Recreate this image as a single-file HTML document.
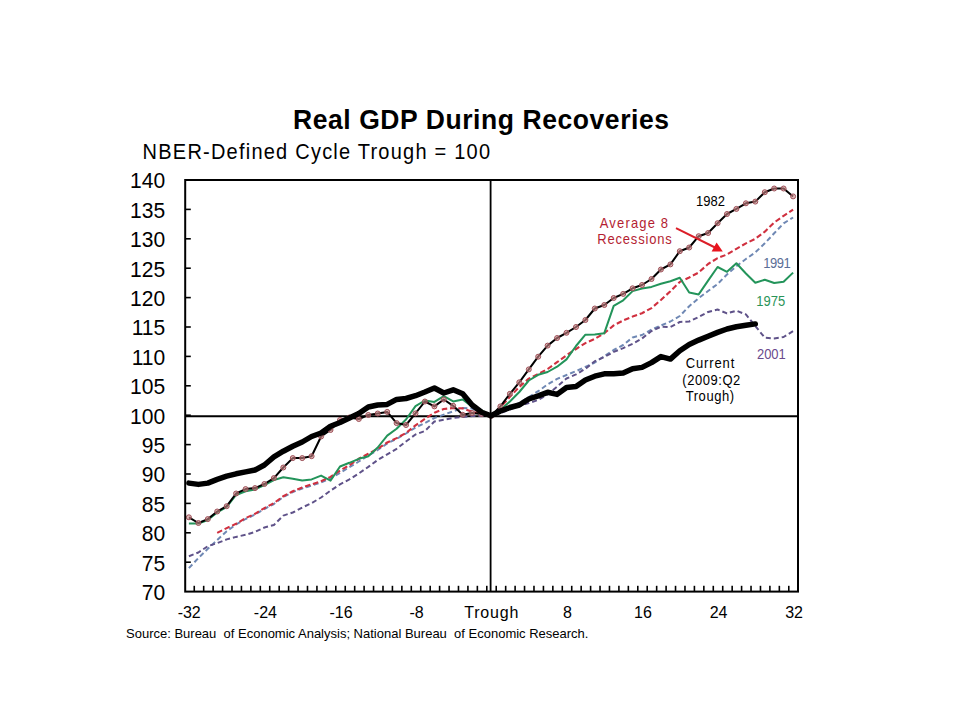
<!DOCTYPE html>
<html><head><meta charset="utf-8"><title>Real GDP During Recoveries</title>
<style>
html,body{margin:0;padding:0;background:#fff;}
body{width:960px;height:720px;overflow:hidden;}
svg{display:block;}
text{font-family:'Liberation Sans', Arial, sans-serif;}
</style></head><body>
<svg width="960" height="720" viewBox="0 0 960 720">
<rect x="0" y="0" width="960" height="720" fill="#fff"/>

<text transform="translate(293,128.7) scale(1,1.05)" font-size="26.5" font-weight="bold" textLength="376" lengthAdjust="spacing" fill="#000">Real GDP During Recoveries</text>
<text transform="translate(142.6,158.5) scale(1,1.1)" font-size="20" textLength="347.5" lengthAdjust="spacing" fill="#000">NBER-Defined Cycle Trough = 100</text>
<text transform="translate(165.2,599.9) scale(0.94,1)" font-size="22.4" text-anchor="end" fill="#000">70</text>
<text transform="translate(165.2,570.5) scale(0.94,1)" font-size="22.4" text-anchor="end" fill="#000">75</text>
<text transform="translate(165.2,541.1) scale(0.94,1)" font-size="22.4" text-anchor="end" fill="#000">80</text>
<text transform="translate(165.2,511.7) scale(0.94,1)" font-size="22.4" text-anchor="end" fill="#000">85</text>
<text transform="translate(165.2,482.3) scale(0.94,1)" font-size="22.4" text-anchor="end" fill="#000">90</text>
<text transform="translate(165.2,452.9) scale(0.94,1)" font-size="22.4" text-anchor="end" fill="#000">95</text>
<text transform="translate(165.2,423.5) scale(0.94,1)" font-size="22.4" text-anchor="end" fill="#000">100</text>
<text transform="translate(165.2,394.1) scale(0.94,1)" font-size="22.4" text-anchor="end" fill="#000">105</text>
<text transform="translate(165.2,364.7) scale(0.94,1)" font-size="22.4" text-anchor="end" fill="#000">110</text>
<text transform="translate(165.2,335.3) scale(0.94,1)" font-size="22.4" text-anchor="end" fill="#000">115</text>
<text transform="translate(165.2,305.9) scale(0.94,1)" font-size="22.4" text-anchor="end" fill="#000">120</text>
<text transform="translate(165.2,276.5) scale(0.94,1)" font-size="22.4" text-anchor="end" fill="#000">125</text>
<text transform="translate(165.2,247.1) scale(0.94,1)" font-size="22.4" text-anchor="end" fill="#000">130</text>
<text transform="translate(165.2,217.7) scale(0.94,1)" font-size="22.4" text-anchor="end" fill="#000">135</text>
<text transform="translate(165.2,188.3) scale(0.94,1)" font-size="22.4" text-anchor="end" fill="#000">140</text>
<text x="189.2" y="618" font-size="16" text-anchor="middle" fill="#000">-32</text>
<text x="265.4" y="618" font-size="16" text-anchor="middle" fill="#000">-24</text>
<text x="341.0" y="618" font-size="16" text-anchor="middle" fill="#000">-16</text>
<text x="416.5" y="618" font-size="16" text-anchor="middle" fill="#000">-8</text>
<text x="491.3" y="618" font-size="16" text-anchor="middle" textLength="54" lengthAdjust="spacing" fill="#000">Trough</text>
<text x="567.5" y="618" font-size="16" text-anchor="middle" fill="#000">8</text>
<text x="643.0" y="618" font-size="16" text-anchor="middle" fill="#000">16</text>
<text x="718.6" y="618" font-size="16" text-anchor="middle" fill="#000">24</text>
<text x="794.1" y="618" font-size="16" text-anchor="middle" fill="#000">32</text>
<text x="126" y="637.5" font-size="13" fill="#000" xml:space="preserve">Source: Bureau  of Economic Analysis; National Bureau  of Economic Research.</text>
<line x1="185" y1="416.2" x2="798" y2="416.2" stroke="#000" stroke-width="2"/>
<polyline points="188.9,568.1 198.4,558.1 207.8,548.8 217.2,540.0 226.7,531.2 236.1,524.5 245.6,519.0 255.0,514.5 264.4,509.0 273.9,504.0 283.3,497.0 292.8,492.0 302.2,488.5 311.6,485.5 321.1,482.5 330.5,478.5 340.0,472.8 349.4,467.2 358.8,461.5 368.3,455.5 377.7,450.0 387.2,443.5 396.6,438.8 406.0,433.5 415.5,427.5 424.9,423.0 434.4,418.0 443.8,414.7 453.2,411.3 462.7,408.0 472.1,408.5 481.6,412.5 491.0,415.8 500.4,411.5 509.9,407.5 519.3,403.0 528.8,397.0 538.2,391.2 547.6,384.4 557.1,378.9 566.5,375.0 576.0,371.2 585.4,366.9 594.8,362.5 604.3,356.2 613.7,350.0 623.2,345.0 632.6,337.5 642.0,335.0 651.5,329.7 660.9,325.5 670.4,321.5 679.8,316.0 689.2,306.2 698.7,298.1 708.1,291.0 717.6,284.0 727.0,274.5 736.4,266.2 745.9,259.0 755.3,252.4 764.8,243.3 774.2,233.3 783.6,223.3 793.1,217.5" fill="none" stroke="#6f88b4" stroke-width="2" stroke-linejoin="round" stroke-dasharray="5 3"/>
<polyline points="188.9,556.2 198.4,552.5 207.8,546.2 217.2,543.1 226.7,539.4 236.1,536.9 245.6,534.8 255.0,531.9 264.4,527.5 273.9,525.0 283.3,515.6 292.8,512.5 302.2,507.5 311.6,503.1 321.1,497.5 330.5,490.6 340.0,484.4 349.4,479.4 358.8,473.5 368.3,466.9 377.7,460.0 387.2,454.4 396.6,448.8 406.0,441.5 415.5,434.5 424.9,431.0 434.4,421.5 443.8,419.8 453.2,418.0 462.7,417.0 472.1,416.0 481.6,416.0 491.0,415.8 500.4,413.0 509.9,409.5 519.3,406.0 528.8,403.0 538.2,400.0 547.6,394.4 557.1,386.7 566.5,378.5 576.0,374.4 585.4,368.8 594.8,361.2 604.3,356.9 613.7,351.9 623.2,348.1 632.6,343.8 642.0,338.5 651.5,331.0 660.9,326.7 670.4,327.0 679.8,322.0 689.2,321.5 698.7,317.0 708.1,312.0 717.6,309.5 727.0,313.4 736.4,310.7 745.9,314.4 755.3,326.0 764.8,337.7 774.2,338.4 783.6,337.0 793.1,331.1" fill="none" stroke="#5f5289" stroke-width="2" stroke-linejoin="round" stroke-dasharray="5 3"/>
<polyline points="217.2,532.9 226.7,528.1 236.1,523.8 245.6,518.1 255.0,513.8 264.4,508.1 273.9,503.1 283.3,496.2 292.8,491.2 302.2,487.5 311.6,484.4 321.1,481.2 330.5,476.9 340.0,470.6 349.4,465.2 358.8,458.8 368.3,453.8 377.7,448.8 387.2,442.5 396.6,438.1 406.0,433.0 415.5,425.4 424.9,418.9 434.4,412.8 443.8,409.0 453.2,408.0 462.7,408.4 472.1,411.7 481.6,414.0 491.0,415.8 500.4,407.3 509.9,396.9 519.3,386.9 528.8,378.6 538.2,374.0 547.6,369.0 557.1,362.2 566.5,355.3 576.0,349.0 585.4,343.1 594.8,338.8 604.3,333.3 613.7,325.4 623.2,320.4 632.6,316.6 642.0,313.2 651.5,308.1 660.9,300.0 670.4,291.2 679.8,281.9 689.2,277.5 698.7,272.5 708.1,264.0 717.6,258.1 727.0,254.5 736.4,248.8 745.9,243.4 755.3,238.8 764.8,231.7 774.2,222.5 783.6,215.8 793.1,209.6" fill="none" stroke="#d0303f" stroke-width="2.1" stroke-linejoin="round" stroke-dasharray="5.5 2.8"/>
<polyline points="188.9,523.5 198.4,523.5 207.8,520.0 217.2,512.5 226.7,507.0 236.1,495.0 245.6,491.2 255.0,489.4 264.4,485.0 273.9,480.0 283.3,477.2 292.8,478.8 302.2,480.6 311.6,479.4 321.1,475.6 330.5,480.6 340.0,466.5 349.4,462.8 358.8,458.8 368.3,456.2 377.7,447.5 387.2,435.6 396.6,428.8 406.0,419.5 415.5,406.1 424.9,400.5 434.4,401.9 443.8,396.2 453.2,401.4 462.7,399.5 472.1,406.6 481.6,410.3 491.0,415.8 500.4,409.8 509.9,401.5 519.3,392.0 528.8,380.5 538.2,374.8 547.6,372.0 557.1,366.7 566.5,359.4 576.0,346.0 585.4,334.7 594.8,334.5 604.3,333.2 613.7,305.9 623.2,300.3 632.6,291.1 642.0,288.5 651.5,286.9 660.9,283.8 670.4,281.2 679.8,277.8 689.2,292.5 698.7,294.4 708.1,280.6 717.6,267.0 727.0,271.8 736.4,263.3 745.9,273.5 755.3,282.7 764.8,279.7 774.2,283.0 783.6,281.7 793.1,272.6" fill="none" stroke="#23945a" stroke-width="2" stroke-linejoin="round"/>
<polyline points="188.9,517.3 198.4,523.0 207.8,519.1 217.2,511.5 226.7,506.2 236.1,493.5 245.6,489.1 255.0,488.1 264.4,484.0 273.9,478.1 283.3,467.5 292.8,458.1 302.2,458.1 311.6,456.2 321.1,436.5 330.5,430.0 340.0,420.0 349.4,417.5 358.8,419.0 368.3,415.0 377.7,413.5 387.2,411.9 396.6,423.1 406.0,425.0 415.5,413.4 424.9,401.5 434.4,406.4 443.8,399.5 453.2,405.8 462.7,414.8 472.1,413.0 481.6,414.0 491.0,416.0 500.4,406.4 509.9,393.8 519.3,382.3 528.8,369.4 538.2,356.7 547.6,345.6 557.1,338.0 566.5,332.8 576.0,327.0 585.4,320.0 594.8,308.5 604.3,305.0 613.7,298.0 623.2,293.9 632.6,288.3 642.0,285.0 651.5,279.0 660.9,269.5 670.4,264.4 679.8,251.2 689.2,247.5 698.7,236.2 708.1,233.0 717.6,223.2 727.0,214.0 736.4,208.9 745.9,203.3 755.3,201.6 764.8,192.2 774.2,188.5 783.6,188.5 793.1,196.4" fill="none" stroke="#000" stroke-width="2" stroke-linejoin="round"/>
<circle cx="188.9" cy="517.3" r="2.5" fill="#d08a8a" fill-opacity="0.6" stroke="#9c5058" stroke-width="1"/>
<circle cx="198.4" cy="523.0" r="2.5" fill="#d08a8a" fill-opacity="0.6" stroke="#9c5058" stroke-width="1"/>
<circle cx="207.8" cy="519.1" r="2.5" fill="#d08a8a" fill-opacity="0.6" stroke="#9c5058" stroke-width="1"/>
<circle cx="217.2" cy="511.5" r="2.5" fill="#d08a8a" fill-opacity="0.6" stroke="#9c5058" stroke-width="1"/>
<circle cx="226.7" cy="506.2" r="2.5" fill="#d08a8a" fill-opacity="0.6" stroke="#9c5058" stroke-width="1"/>
<circle cx="236.1" cy="493.5" r="2.5" fill="#d08a8a" fill-opacity="0.6" stroke="#9c5058" stroke-width="1"/>
<circle cx="245.6" cy="489.1" r="2.5" fill="#d08a8a" fill-opacity="0.6" stroke="#9c5058" stroke-width="1"/>
<circle cx="255.0" cy="488.1" r="2.5" fill="#d08a8a" fill-opacity="0.6" stroke="#9c5058" stroke-width="1"/>
<circle cx="264.4" cy="484.0" r="2.5" fill="#d08a8a" fill-opacity="0.6" stroke="#9c5058" stroke-width="1"/>
<circle cx="273.9" cy="478.1" r="2.5" fill="#d08a8a" fill-opacity="0.6" stroke="#9c5058" stroke-width="1"/>
<circle cx="283.3" cy="467.5" r="2.5" fill="#d08a8a" fill-opacity="0.6" stroke="#9c5058" stroke-width="1"/>
<circle cx="292.8" cy="458.1" r="2.5" fill="#d08a8a" fill-opacity="0.6" stroke="#9c5058" stroke-width="1"/>
<circle cx="302.2" cy="458.1" r="2.5" fill="#d08a8a" fill-opacity="0.6" stroke="#9c5058" stroke-width="1"/>
<circle cx="311.6" cy="456.2" r="2.5" fill="#d08a8a" fill-opacity="0.6" stroke="#9c5058" stroke-width="1"/>
<circle cx="321.1" cy="436.5" r="2.5" fill="#d08a8a" fill-opacity="0.6" stroke="#9c5058" stroke-width="1"/>
<circle cx="330.5" cy="430.0" r="2.5" fill="#d08a8a" fill-opacity="0.6" stroke="#9c5058" stroke-width="1"/>
<circle cx="340.0" cy="420.0" r="2.5" fill="#d08a8a" fill-opacity="0.6" stroke="#9c5058" stroke-width="1"/>
<circle cx="349.4" cy="417.5" r="2.5" fill="#d08a8a" fill-opacity="0.6" stroke="#9c5058" stroke-width="1"/>
<circle cx="358.8" cy="419.0" r="2.5" fill="#d08a8a" fill-opacity="0.6" stroke="#9c5058" stroke-width="1"/>
<circle cx="368.3" cy="415.0" r="2.5" fill="#d08a8a" fill-opacity="0.6" stroke="#9c5058" stroke-width="1"/>
<circle cx="377.7" cy="413.5" r="2.5" fill="#d08a8a" fill-opacity="0.6" stroke="#9c5058" stroke-width="1"/>
<circle cx="387.2" cy="411.9" r="2.5" fill="#d08a8a" fill-opacity="0.6" stroke="#9c5058" stroke-width="1"/>
<circle cx="396.6" cy="423.1" r="2.5" fill="#d08a8a" fill-opacity="0.6" stroke="#9c5058" stroke-width="1"/>
<circle cx="406.0" cy="425.0" r="2.5" fill="#d08a8a" fill-opacity="0.6" stroke="#9c5058" stroke-width="1"/>
<circle cx="415.5" cy="413.4" r="2.5" fill="#d08a8a" fill-opacity="0.6" stroke="#9c5058" stroke-width="1"/>
<circle cx="424.9" cy="401.5" r="2.5" fill="#d08a8a" fill-opacity="0.6" stroke="#9c5058" stroke-width="1"/>
<circle cx="434.4" cy="406.4" r="2.5" fill="#d08a8a" fill-opacity="0.6" stroke="#9c5058" stroke-width="1"/>
<circle cx="443.8" cy="399.5" r="2.5" fill="#d08a8a" fill-opacity="0.6" stroke="#9c5058" stroke-width="1"/>
<circle cx="453.2" cy="405.8" r="2.5" fill="#d08a8a" fill-opacity="0.6" stroke="#9c5058" stroke-width="1"/>
<circle cx="462.7" cy="414.8" r="2.5" fill="#d08a8a" fill-opacity="0.6" stroke="#9c5058" stroke-width="1"/>
<circle cx="472.1" cy="413.0" r="2.5" fill="#d08a8a" fill-opacity="0.6" stroke="#9c5058" stroke-width="1"/>
<circle cx="481.6" cy="414.0" r="2.5" fill="#d08a8a" fill-opacity="0.6" stroke="#9c5058" stroke-width="1"/>
<circle cx="491.0" cy="416.0" r="2.5" fill="#d08a8a" fill-opacity="0.6" stroke="#9c5058" stroke-width="1"/>
<circle cx="500.4" cy="406.4" r="2.5" fill="#d08a8a" fill-opacity="0.6" stroke="#9c5058" stroke-width="1"/>
<circle cx="509.9" cy="393.8" r="2.5" fill="#d08a8a" fill-opacity="0.6" stroke="#9c5058" stroke-width="1"/>
<circle cx="519.3" cy="382.3" r="2.5" fill="#d08a8a" fill-opacity="0.6" stroke="#9c5058" stroke-width="1"/>
<circle cx="528.8" cy="369.4" r="2.5" fill="#d08a8a" fill-opacity="0.6" stroke="#9c5058" stroke-width="1"/>
<circle cx="538.2" cy="356.7" r="2.5" fill="#d08a8a" fill-opacity="0.6" stroke="#9c5058" stroke-width="1"/>
<circle cx="547.6" cy="345.6" r="2.5" fill="#d08a8a" fill-opacity="0.6" stroke="#9c5058" stroke-width="1"/>
<circle cx="557.1" cy="338.0" r="2.5" fill="#d08a8a" fill-opacity="0.6" stroke="#9c5058" stroke-width="1"/>
<circle cx="566.5" cy="332.8" r="2.5" fill="#d08a8a" fill-opacity="0.6" stroke="#9c5058" stroke-width="1"/>
<circle cx="576.0" cy="327.0" r="2.5" fill="#d08a8a" fill-opacity="0.6" stroke="#9c5058" stroke-width="1"/>
<circle cx="585.4" cy="320.0" r="2.5" fill="#d08a8a" fill-opacity="0.6" stroke="#9c5058" stroke-width="1"/>
<circle cx="594.8" cy="308.5" r="2.5" fill="#d08a8a" fill-opacity="0.6" stroke="#9c5058" stroke-width="1"/>
<circle cx="604.3" cy="305.0" r="2.5" fill="#d08a8a" fill-opacity="0.6" stroke="#9c5058" stroke-width="1"/>
<circle cx="613.7" cy="298.0" r="2.5" fill="#d08a8a" fill-opacity="0.6" stroke="#9c5058" stroke-width="1"/>
<circle cx="623.2" cy="293.9" r="2.5" fill="#d08a8a" fill-opacity="0.6" stroke="#9c5058" stroke-width="1"/>
<circle cx="632.6" cy="288.3" r="2.5" fill="#d08a8a" fill-opacity="0.6" stroke="#9c5058" stroke-width="1"/>
<circle cx="642.0" cy="285.0" r="2.5" fill="#d08a8a" fill-opacity="0.6" stroke="#9c5058" stroke-width="1"/>
<circle cx="651.5" cy="279.0" r="2.5" fill="#d08a8a" fill-opacity="0.6" stroke="#9c5058" stroke-width="1"/>
<circle cx="660.9" cy="269.5" r="2.5" fill="#d08a8a" fill-opacity="0.6" stroke="#9c5058" stroke-width="1"/>
<circle cx="670.4" cy="264.4" r="2.5" fill="#d08a8a" fill-opacity="0.6" stroke="#9c5058" stroke-width="1"/>
<circle cx="679.8" cy="251.2" r="2.5" fill="#d08a8a" fill-opacity="0.6" stroke="#9c5058" stroke-width="1"/>
<circle cx="689.2" cy="247.5" r="2.5" fill="#d08a8a" fill-opacity="0.6" stroke="#9c5058" stroke-width="1"/>
<circle cx="698.7" cy="236.2" r="2.5" fill="#d08a8a" fill-opacity="0.6" stroke="#9c5058" stroke-width="1"/>
<circle cx="708.1" cy="233.0" r="2.5" fill="#d08a8a" fill-opacity="0.6" stroke="#9c5058" stroke-width="1"/>
<circle cx="717.6" cy="223.2" r="2.5" fill="#d08a8a" fill-opacity="0.6" stroke="#9c5058" stroke-width="1"/>
<circle cx="727.0" cy="214.0" r="2.5" fill="#d08a8a" fill-opacity="0.6" stroke="#9c5058" stroke-width="1"/>
<circle cx="736.4" cy="208.9" r="2.5" fill="#d08a8a" fill-opacity="0.6" stroke="#9c5058" stroke-width="1"/>
<circle cx="745.9" cy="203.3" r="2.5" fill="#d08a8a" fill-opacity="0.6" stroke="#9c5058" stroke-width="1"/>
<circle cx="755.3" cy="201.6" r="2.5" fill="#d08a8a" fill-opacity="0.6" stroke="#9c5058" stroke-width="1"/>
<circle cx="764.8" cy="192.2" r="2.5" fill="#d08a8a" fill-opacity="0.6" stroke="#9c5058" stroke-width="1"/>
<circle cx="774.2" cy="188.5" r="2.5" fill="#d08a8a" fill-opacity="0.6" stroke="#9c5058" stroke-width="1"/>
<circle cx="783.6" cy="188.5" r="2.5" fill="#d08a8a" fill-opacity="0.6" stroke="#9c5058" stroke-width="1"/>
<circle cx="793.1" cy="196.4" r="2.5" fill="#d08a8a" fill-opacity="0.6" stroke="#9c5058" stroke-width="1"/>
<polyline points="188.9,483.1 198.4,484.4 207.8,483.1 217.2,479.4 226.7,476.2 236.1,473.8 245.6,471.9 255.0,470.0 264.4,465.0 273.9,456.9 283.3,451.2 292.8,446.2 302.2,442.0 311.6,436.5 321.1,433.0 330.5,426.2 340.0,422.5 349.4,418.0 358.8,413.5 368.3,407.0 377.7,405.0 387.2,404.4 396.6,399.4 406.0,398.5 415.5,395.7 424.9,392.0 434.4,388.0 443.8,393.0 453.2,389.8 462.7,393.8 472.1,405.0 481.6,412.2 491.0,415.8 500.4,411.0 509.9,407.5 519.3,405.0 528.8,399.0 538.2,395.8 547.6,392.3 557.1,394.4 566.5,387.5 576.0,386.5 585.4,380.0 594.8,376.2 604.3,373.8 613.7,373.8 623.2,373.1 632.6,368.8 642.0,367.4 651.5,362.6 660.9,356.6 670.4,359.1 679.8,350.8 689.2,344.5 698.7,340.1 708.1,336.2 717.6,332.4 727.0,329.0 736.4,326.8 745.9,325.3 755.3,323.9" fill="none" stroke="#000" stroke-width="5.5" stroke-linejoin="round" stroke-linecap="round"/>
<line x1="490.6" y1="180" x2="490.6" y2="591.5" stroke="#000" stroke-width="1.8"/>
<rect x="185.2" y="180" width="612.8" height="411.6" fill="none" stroke="#000" stroke-width="2"/>
<line x1="185" y1="562.2" x2="190.8" y2="562.2" stroke="#000" stroke-width="1.6"/>
<line x1="185" y1="532.8" x2="190.8" y2="532.8" stroke="#000" stroke-width="1.6"/>
<line x1="185" y1="503.4" x2="190.8" y2="503.4" stroke="#000" stroke-width="1.6"/>
<line x1="185" y1="474.0" x2="190.8" y2="474.0" stroke="#000" stroke-width="1.6"/>
<line x1="185" y1="444.6" x2="190.8" y2="444.6" stroke="#000" stroke-width="1.6"/>
<line x1="185" y1="415.2" x2="190.8" y2="415.2" stroke="#000" stroke-width="1.6"/>
<line x1="185" y1="385.8" x2="190.8" y2="385.8" stroke="#000" stroke-width="1.6"/>
<line x1="185" y1="356.4" x2="190.8" y2="356.4" stroke="#000" stroke-width="1.6"/>
<line x1="185" y1="327.0" x2="190.8" y2="327.0" stroke="#000" stroke-width="1.6"/>
<line x1="185" y1="297.6" x2="190.8" y2="297.6" stroke="#000" stroke-width="1.6"/>
<line x1="185" y1="268.2" x2="190.8" y2="268.2" stroke="#000" stroke-width="1.6"/>
<line x1="185" y1="238.8" x2="190.8" y2="238.8" stroke="#000" stroke-width="1.6"/>
<line x1="185" y1="209.4" x2="190.8" y2="209.4" stroke="#000" stroke-width="1.6"/>
<line x1="194.25" y1="585.8" x2="194.25" y2="591.5" stroke="#000" stroke-width="1.6"/>
<line x1="203.68" y1="585.8" x2="203.68" y2="591.5" stroke="#000" stroke-width="1.6"/>
<line x1="213.12" y1="585.8" x2="213.12" y2="591.5" stroke="#000" stroke-width="1.6"/>
<line x1="222.56" y1="585.8" x2="222.56" y2="591.5" stroke="#000" stroke-width="1.6"/>
<line x1="232.00" y1="585.8" x2="232.00" y2="591.5" stroke="#000" stroke-width="1.6"/>
<line x1="241.43" y1="585.8" x2="241.43" y2="591.5" stroke="#000" stroke-width="1.6"/>
<line x1="250.87" y1="585.8" x2="250.87" y2="591.5" stroke="#000" stroke-width="1.6"/>
<line x1="260.31" y1="585.8" x2="260.31" y2="591.5" stroke="#000" stroke-width="1.6"/>
<line x1="269.74" y1="585.8" x2="269.74" y2="591.5" stroke="#000" stroke-width="1.6"/>
<line x1="279.18" y1="585.8" x2="279.18" y2="591.5" stroke="#000" stroke-width="1.6"/>
<line x1="288.62" y1="585.8" x2="288.62" y2="591.5" stroke="#000" stroke-width="1.6"/>
<line x1="298.05" y1="585.8" x2="298.05" y2="591.5" stroke="#000" stroke-width="1.6"/>
<line x1="307.49" y1="585.8" x2="307.49" y2="591.5" stroke="#000" stroke-width="1.6"/>
<line x1="316.93" y1="585.8" x2="316.93" y2="591.5" stroke="#000" stroke-width="1.6"/>
<line x1="326.37" y1="585.8" x2="326.37" y2="591.5" stroke="#000" stroke-width="1.6"/>
<line x1="335.80" y1="585.8" x2="335.80" y2="591.5" stroke="#000" stroke-width="1.6"/>
<line x1="345.24" y1="585.8" x2="345.24" y2="591.5" stroke="#000" stroke-width="1.6"/>
<line x1="354.68" y1="585.8" x2="354.68" y2="591.5" stroke="#000" stroke-width="1.6"/>
<line x1="364.11" y1="585.8" x2="364.11" y2="591.5" stroke="#000" stroke-width="1.6"/>
<line x1="373.55" y1="585.8" x2="373.55" y2="591.5" stroke="#000" stroke-width="1.6"/>
<line x1="382.99" y1="585.8" x2="382.99" y2="591.5" stroke="#000" stroke-width="1.6"/>
<line x1="392.42" y1="585.8" x2="392.42" y2="591.5" stroke="#000" stroke-width="1.6"/>
<line x1="401.86" y1="585.8" x2="401.86" y2="591.5" stroke="#000" stroke-width="1.6"/>
<line x1="411.30" y1="585.8" x2="411.30" y2="591.5" stroke="#000" stroke-width="1.6"/>
<line x1="420.74" y1="585.8" x2="420.74" y2="591.5" stroke="#000" stroke-width="1.6"/>
<line x1="430.17" y1="585.8" x2="430.17" y2="591.5" stroke="#000" stroke-width="1.6"/>
<line x1="439.61" y1="585.8" x2="439.61" y2="591.5" stroke="#000" stroke-width="1.6"/>
<line x1="449.05" y1="585.8" x2="449.05" y2="591.5" stroke="#000" stroke-width="1.6"/>
<line x1="458.48" y1="585.8" x2="458.48" y2="591.5" stroke="#000" stroke-width="1.6"/>
<line x1="467.92" y1="585.8" x2="467.92" y2="591.5" stroke="#000" stroke-width="1.6"/>
<line x1="477.36" y1="585.8" x2="477.36" y2="591.5" stroke="#000" stroke-width="1.6"/>
<line x1="486.79" y1="585.8" x2="486.79" y2="591.5" stroke="#000" stroke-width="1.6"/>
<line x1="496.23" y1="585.8" x2="496.23" y2="591.5" stroke="#000" stroke-width="1.6"/>
<line x1="505.67" y1="585.8" x2="505.67" y2="591.5" stroke="#000" stroke-width="1.6"/>
<line x1="515.11" y1="585.8" x2="515.11" y2="591.5" stroke="#000" stroke-width="1.6"/>
<line x1="524.54" y1="585.8" x2="524.54" y2="591.5" stroke="#000" stroke-width="1.6"/>
<line x1="533.98" y1="585.8" x2="533.98" y2="591.5" stroke="#000" stroke-width="1.6"/>
<line x1="543.42" y1="585.8" x2="543.42" y2="591.5" stroke="#000" stroke-width="1.6"/>
<line x1="552.85" y1="585.8" x2="552.85" y2="591.5" stroke="#000" stroke-width="1.6"/>
<line x1="562.29" y1="585.8" x2="562.29" y2="591.5" stroke="#000" stroke-width="1.6"/>
<line x1="571.73" y1="585.8" x2="571.73" y2="591.5" stroke="#000" stroke-width="1.6"/>
<line x1="581.16" y1="585.8" x2="581.16" y2="591.5" stroke="#000" stroke-width="1.6"/>
<line x1="590.60" y1="585.8" x2="590.60" y2="591.5" stroke="#000" stroke-width="1.6"/>
<line x1="600.04" y1="585.8" x2="600.04" y2="591.5" stroke="#000" stroke-width="1.6"/>
<line x1="609.47" y1="585.8" x2="609.47" y2="591.5" stroke="#000" stroke-width="1.6"/>
<line x1="618.91" y1="585.8" x2="618.91" y2="591.5" stroke="#000" stroke-width="1.6"/>
<line x1="628.35" y1="585.8" x2="628.35" y2="591.5" stroke="#000" stroke-width="1.6"/>
<line x1="637.79" y1="585.8" x2="637.79" y2="591.5" stroke="#000" stroke-width="1.6"/>
<line x1="647.22" y1="585.8" x2="647.22" y2="591.5" stroke="#000" stroke-width="1.6"/>
<line x1="656.66" y1="585.8" x2="656.66" y2="591.5" stroke="#000" stroke-width="1.6"/>
<line x1="666.10" y1="585.8" x2="666.10" y2="591.5" stroke="#000" stroke-width="1.6"/>
<line x1="675.53" y1="585.8" x2="675.53" y2="591.5" stroke="#000" stroke-width="1.6"/>
<line x1="684.97" y1="585.8" x2="684.97" y2="591.5" stroke="#000" stroke-width="1.6"/>
<line x1="694.41" y1="585.8" x2="694.41" y2="591.5" stroke="#000" stroke-width="1.6"/>
<line x1="703.85" y1="585.8" x2="703.85" y2="591.5" stroke="#000" stroke-width="1.6"/>
<line x1="713.28" y1="585.8" x2="713.28" y2="591.5" stroke="#000" stroke-width="1.6"/>
<line x1="722.72" y1="585.8" x2="722.72" y2="591.5" stroke="#000" stroke-width="1.6"/>
<line x1="732.16" y1="585.8" x2="732.16" y2="591.5" stroke="#000" stroke-width="1.6"/>
<line x1="741.59" y1="585.8" x2="741.59" y2="591.5" stroke="#000" stroke-width="1.6"/>
<line x1="751.03" y1="585.8" x2="751.03" y2="591.5" stroke="#000" stroke-width="1.6"/>
<line x1="760.47" y1="585.8" x2="760.47" y2="591.5" stroke="#000" stroke-width="1.6"/>
<line x1="769.90" y1="585.8" x2="769.90" y2="591.5" stroke="#000" stroke-width="1.6"/>
<line x1="779.34" y1="585.8" x2="779.34" y2="591.5" stroke="#000" stroke-width="1.6"/>
<line x1="788.78" y1="585.8" x2="788.78" y2="591.5" stroke="#000" stroke-width="1.6"/>
<text transform="translate(696,205.8) scale(1,1.12)" font-size="13" fill="#000">1982</text>
<text transform="translate(633.9,227.6) scale(1,1.17)" font-size="13" text-anchor="middle" textLength="68.3" lengthAdjust="spacing" fill="#b41e32">Average 8</text>
<text transform="translate(634.5,244.1) scale(1,1.17)" font-size="13" text-anchor="middle" textLength="74.5" lengthAdjust="spacing" fill="#b41e32">Recessions</text>
<line x1="676" y1="228.2" x2="715" y2="247.5" stroke="#dc1e28" stroke-width="2"/>
<polygon points="716.6,242.4 711.6,251.4 722.8,251.6" fill="#e8141e"/>
<text transform="translate(763.3,267.9) scale(1,1.15)" font-size="13" textLength="27.5" lengthAdjust="spacing" fill="#5a6e96">1991</text>
<text transform="translate(756.3,306.3) scale(1,1.15)" font-size="13" fill="#2a9458">1975</text>
<text transform="translate(756.9,358.5) scale(1,1.15)" font-size="13" fill="#6a4a8c">2001</text>
<text transform="translate(710,367.9) scale(1,1.15)" font-size="13" text-anchor="middle" textLength="48.5" lengthAdjust="spacing" fill="#000">Current</text>
<text transform="translate(711.3,384.8) scale(1,1.15)" font-size="13" text-anchor="middle" textLength="58" lengthAdjust="spacing" fill="#000">(2009:Q2</text>
<text transform="translate(709.9,401) scale(1,1.15)" font-size="13" text-anchor="middle" textLength="48.5" lengthAdjust="spacing" fill="#000">Trough)</text>
</svg>
</body></html>
